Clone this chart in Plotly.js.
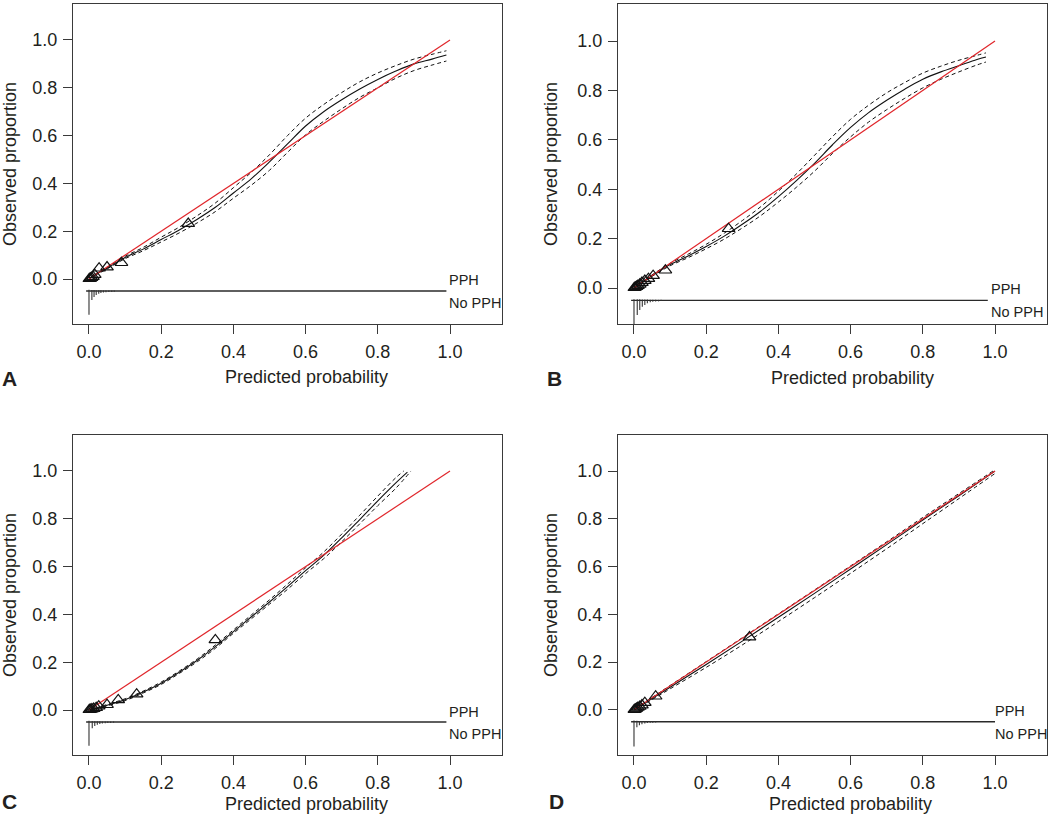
<!DOCTYPE html>
<html><head><meta charset="utf-8">
<script src="https://cdn.plot.ly/plotly-3.0.1.min.js"></script>
<style>html,body{margin:0;padding:0;background:#fff}#chart{width:1050px;height:815px}</style>
</head><body><div id="chart"></div>
<script>
// ---------- data ----------
const tickVals = [0, 0.2, 0.4, 0.6, 0.8, 1.0];
const tickText = ["0.0", "0.2", "0.4", "0.6", "0.8", "1.0"];
const diagX = [0, 1];
const diagY = [0, 1];
const rugBase = -0.05;

// Panel A
const A_x   = [0, 0.02, 0.05, 0.1, 0.15, 0.2, 0.25, 0.3, 0.35, 0.4, 0.45, 0.5, 0.55, 0.6, 0.65, 0.7, 0.75, 0.8, 0.85, 0.9, 0.95, 0.99];
const A_fit = [0, 0.02, 0.045, 0.09, 0.125, 0.165, 0.205, 0.25, 0.30, 0.36, 0.42, 0.49, 0.565, 0.64, 0.70, 0.75, 0.795, 0.835, 0.87, 0.90, 0.92, 0.937];
const A_up  = [0.002, 0.022, 0.048, 0.095, 0.132, 0.175, 0.217, 0.265, 0.318, 0.382, 0.447, 0.52, 0.60, 0.673, 0.73, 0.78, 0.825, 0.862, 0.893, 0.92, 0.94, 0.955];
const A_lo  = [0, 0.018, 0.042, 0.085, 0.118, 0.155, 0.193, 0.235, 0.282, 0.338, 0.393, 0.455, 0.53, 0.603, 0.66, 0.712, 0.76, 0.80, 0.84, 0.872, 0.895, 0.912];
const A_gx  = [0.001, 0.004, 0.007, 0.011, 0.016, 0.028, 0.05, 0.09, 0.275];
const A_gy  = [0.001, 0.003, 0.006, 0.01, 0.018, 0.045, 0.05, 0.068, 0.232];
const A_rx  = [0, 0.008, 0.014, 0.02, 0.027, 0.033, 0.04, 0.047, 0.055, 0.063, 0.07];
const A_no  = [0.10, 0.038, 0.025, 0.017, 0.012, 0.009, 0.007, 0.005, 0.004, 0.004, 0.003];
const A_yes = [0.005, 0.004, 0.004, 0.003, 0.003, 0.003, 0.002, 0.002, 0.002, 0.002, 0.002];
const A_rug = [-0.008, 0.99];

// Panel B
const B_x   = [0, 0.02, 0.05, 0.1, 0.15, 0.2, 0.25, 0.3, 0.35, 0.4, 0.45, 0.5, 0.55, 0.6, 0.65, 0.7, 0.75, 0.8, 0.85, 0.9, 0.95, 0.975];
const B_fit = [0, 0.02, 0.05, 0.095, 0.13, 0.168, 0.21, 0.258, 0.31, 0.37, 0.435, 0.505, 0.58, 0.65, 0.71, 0.76, 0.805, 0.845, 0.875, 0.90, 0.925, 0.935];
const B_up  = [0.002, 0.022, 0.053, 0.10, 0.137, 0.177, 0.222, 0.273, 0.328, 0.392, 0.462, 0.537, 0.613, 0.683, 0.74, 0.79, 0.832, 0.87, 0.898, 0.922, 0.942, 0.952];
const B_lo  = [0, 0.018, 0.047, 0.09, 0.123, 0.159, 0.198, 0.243, 0.292, 0.348, 0.408, 0.473, 0.545, 0.612, 0.672, 0.722, 0.768, 0.81, 0.845, 0.875, 0.903, 0.915];
const B_gx  = [0.001, 0.004, 0.007, 0.011, 0.016, 0.022, 0.03, 0.04, 0.053, 0.087, 0.262];
const B_gy  = [0.001, 0.003, 0.006, 0.01, 0.015, 0.022, 0.03, 0.038, 0.05, 0.072, 0.24];
const B_rx  = [0, 0.009, 0.016, 0.023, 0.03, 0.037, 0.045, 0.052, 0.06, 0.068, 0.075];
const B_no  = [0.10, 0.059, 0.039, 0.026, 0.019, 0.012, 0.008, 0.006, 0.005, 0.004, 0.003];
const B_yes = [0.005, 0.004, 0.004, 0.003, 0.003, 0.003, 0.002, 0.002, 0.002, 0.002, 0.002];
const B_rug = [-0.008, 0.98];

// Panel C
const C_x   = [0, 0.02, 0.05, 0.1, 0.15, 0.2, 0.25, 0.3, 0.35, 0.4, 0.45, 0.5, 0.55, 0.6, 0.65, 0.7, 0.75, 0.8, 0.85, 0.882];
const C_fit = [0, 0.007, 0.02, 0.043, 0.075, 0.112, 0.158, 0.208, 0.265, 0.328, 0.39, 0.452, 0.516, 0.583, 0.647, 0.72, 0.797, 0.875, 0.95, 0.995];
const C_upX = [0, 0.02, 0.05, 0.1, 0.15, 0.2, 0.25, 0.3, 0.35, 0.4, 0.45, 0.5, 0.55, 0.6, 0.65, 0.7, 0.75, 0.8, 0.85, 0.872];
const C_up  = [0.002, 0.009, 0.023, 0.047, 0.079, 0.117, 0.163, 0.214, 0.272, 0.335, 0.398, 0.461, 0.527, 0.595, 0.661, 0.736, 0.815, 0.895, 0.972, 1.0];
const C_loX = [0, 0.02, 0.05, 0.1, 0.15, 0.2, 0.25, 0.3, 0.35, 0.4, 0.45, 0.5, 0.55, 0.6, 0.65, 0.7, 0.75, 0.8, 0.85, 0.892];
const C_lo  = [0, 0.005, 0.017, 0.039, 0.071, 0.107, 0.153, 0.202, 0.258, 0.321, 0.382, 0.443, 0.505, 0.571, 0.633, 0.704, 0.779, 0.855, 0.928, 1.0];
const C_gx  = [0.001, 0.004, 0.008, 0.013, 0.02, 0.027, 0.05, 0.081, 0.132, 0.35];
const C_gy  = [0.001, 0.002, 0.004, 0.006, 0.01, 0.016, 0.022, 0.042, 0.066, 0.293];
const C_rx  = [0, 0.009, 0.016, 0.023, 0.03, 0.037, 0.045, 0.052, 0.06, 0.068];
const C_no  = [0.10, 0.026, 0.017, 0.012, 0.009, 0.007, 0.005, 0.004, 0.004, 0.003];
const C_yes = [0.005, 0.004, 0.003, 0.003, 0.003, 0.002, 0.002, 0.002, 0.002, 0.002];
const C_rug = [-0.008, 0.99];

// Panel D
const D_x   = [0, 0.05, 0.1, 0.2, 0.3, 0.4, 0.5, 0.6, 0.7, 0.8, 0.9, 1.0];
const D_fit = [0, 0.047, 0.095, 0.19, 0.288, 0.388, 0.488, 0.59, 0.692, 0.795, 0.897, 1.0];
const D_up  = [0.002, 0.052, 0.102, 0.202, 0.302, 0.402, 0.502, 0.603, 0.704, 0.806, 0.906, 1.006];
const D_lo  = [0, 0.043, 0.088, 0.178, 0.272, 0.37, 0.47, 0.572, 0.675, 0.78, 0.885, 0.99];
const D_gx  = [0.001, 0.004, 0.007, 0.011, 0.016, 0.022, 0.03, 0.06, 0.32];
const D_gy  = [0.001, 0.003, 0.006, 0.01, 0.014, 0.02, 0.03, 0.057, 0.305];
const D_rx  = [0, 0.008, 0.015, 0.022, 0.03, 0.037, 0.045, 0.052, 0.06];
const D_no  = [0.103, 0.023, 0.014, 0.01, 0.007, 0.005, 0.004, 0.004, 0.003];
const D_yes = [0.005, 0.004, 0.003, 0.003, 0.003, 0.002, 0.002, 0.002, 0.002];
const D_rug = [-0.008, 1.0];

// ---------- build ----------
const F = "Liberation Sans, Arial, Helvetica, sans-serif";
const TXT = "#231f20";
const AX = "#3a3a3a";

const panels = [
  {L:"A", xa:"x",  ya:"y",  x:A_x, fit:A_fit, upX:A_x, up:A_up, loX:A_x, lo:A_lo, gx:A_gx, gy:A_gy, rx:A_rx, no:A_no, yes:A_yes, rug:A_rug},
  {L:"B", xa:"x2", ya:"y2", x:B_x, fit:B_fit, upX:B_x, up:B_up, loX:B_x, lo:B_lo, gx:B_gx, gy:B_gy, rx:B_rx, no:B_no, yes:B_yes, rug:B_rug},
  {L:"C", xa:"x3", ya:"y3", x:C_x, fit:C_fit, upX:C_upX, up:C_up, loX:C_loX, lo:C_lo, gx:C_gx, gy:C_gy, rx:C_rx, no:C_no, yes:C_yes, rug:C_rug},
  {L:"D", xa:"x4", ya:"y4", x:D_x, fit:D_fit, upX:D_x, up:D_up, loX:D_x, lo:D_lo, gx:D_gx, gy:D_gy, rx:D_rx, no:D_no, yes:D_yes, rug:D_rug}
];

const traces = [];
panels.forEach(p => {
  const common = {xaxis:p.xa, yaxis:p.ya, showlegend:false, hoverinfo:"skip"};
  // rug baseline
  traces.push(Object.assign({type:"scatter", mode:"lines", x:p.rug, y:[rugBase, rugBase],
    line:{color:"#2a2a2a", width:1.4}}, common));
  // spikes
  const sx = [], sy = [];
  p.rx.forEach((v, i) => {
    sx.push(v, v, null); sy.push(rugBase, rugBase - p.no[i], null);
    sx.push(v, v, null); sy.push(rugBase, rugBase + p.yes[i], null);
  });
  traces.push(Object.assign({type:"scatter", mode:"lines", x:sx, y:sy,
    line:{color:"#333", width:1.1}}, common));
  // CI dashed
  traces.push(Object.assign({type:"scatter", mode:"lines", x:p.upX, y:p.up, line:{color:"#111", width:1, dash:"4px,3px", shape:"spline"}}, common));
  traces.push(Object.assign({type:"scatter", mode:"lines", x:p.loX, y:p.lo, line:{color:"#111", width:1, dash:"4px,3px", shape:"spline"}}, common));
  // fitted
  traces.push(Object.assign({type:"scatter", mode:"lines", x:p.x, y:p.fit, line:{color:"#111", width:1.1, shape:"spline"}}, common));
  // ideal
  traces.push(Object.assign({type:"scatter", mode:"lines", x:diagX, y:diagY, line:{color:"#e0262b", width:1.2}}, common));
  // grouped observations
  traces.push(Object.assign({type:"scatter", mode:"markers", x:p.gx, y:p.gy,
    marker:{symbol:"triangle-up-open", size:11, color:"#111", line:{width:1.2, color:"#111"}}}, common));
});

function xAxis(dom, anchor){
  return {domain:dom, anchor:anchor, range:[-0.0443, 1.144], showline:true, mirror:true, linecolor:AX, linewidth:1,
    ticks:"outside", ticklen:9, tickwidth:1, tickcolor:AX, tickvals:tickVals, ticktext:tickText,
    showgrid:false, zeroline:false, tickfont:{family:F, size:18, color:TXT}, ticklabelstandoff:2, fixedrange:true};
}
function yAxis(dom, anchor, range){
  return {domain:dom, anchor:anchor, range:range, showline:true, mirror:true, linecolor:AX, linewidth:1,
    ticks:"outside", ticklen:9, tickwidth:1, tickcolor:AX, tickvals:tickVals, ticktext:tickText,
    showgrid:false, zeroline:false, tickfont:{family:F, size:18, color:TXT}, ticklabelstandoff:2,
    title:{text:"Observed proportion", font:{family:F, size:18, color:TXT}, standoff:15}, fixedrange:true};
}

const W = 1050, H = 815;
const xdL = [73/W, 502/W], xdR = [618/W, 1047/W];
const ydT = [1 - 324/H, 1 - 4/H], ydB = [1 - 755/H, 1 - 435/H];

const annotations = [];
function ann(o){ annotations.push(Object.assign({showarrow:false, font:{family:F, size:14.5, color:TXT}}, o)); }
// PPH / No PPH labels (data coords)
const lab = [
  {xa:"x",  ya:"y",  x:0.992, y1:-0.004, y2:-0.100},
  {xa:"x2", ya:"y2", x:0.983, y1:-0.004, y2:-0.097},
  {xa:"x3", ya:"y3", x:0.992, y1:-0.008, y2:-0.100},
  {xa:"x4", ya:"y4", x:0.994, y1:-0.004, y2:-0.100}
];
lab.forEach(l => {
  ann({xref:l.xa, yref:l.ya, x:l.x, y:l.y1, text:"PPH", xanchor:"left", yanchor:"middle"});
  ann({xref:l.xa, yref:l.ya, x:l.x, y:l.y2, text:"No PPH", xanchor:"left", yanchor:"middle"});
});
// x-axis titles
[[306, 377], [852, 378], [306, 804], [850, 804]].forEach(c => {
  ann({xref:"paper", yref:"paper", x:c[0]/W, y:1 - c[1]/H, text:"Predicted probability", xanchor:"center", yanchor:"middle",
       font:{family:F, size:18, color:TXT}});
});
// panel letters
[["A", 0, 378], ["B", 545, 378], ["C", 0, 801], ["D", 547, 801]].forEach(c => {
  ann({xref:"paper", yref:"paper", x:c[1]/W, y:1 - c[2]/H, text:"<b>" + c[0] + "</b>", xanchor:"left", yanchor:"middle",
       font:{family:F, size:21, color:TXT}});
});

const layout = {
  width:W, height:H, margin:{l:0, r:0, t:0, b:0}, paper_bgcolor:"#fff", plot_bgcolor:"#fff",
  showlegend:false, font:{family:F, color:TXT},
  xaxis: xAxis(xdL, "y"),  yaxis: yAxis(ydT, "x",  [-0.1883, 1.1506]),
  xaxis2:xAxis(xdR, "y2"), yaxis2:yAxis(ydT, "x2", [-0.1457, 1.1498]),
  xaxis3:xAxis(xdL, "y3"), yaxis3:yAxis(ydB, "x3", [-0.1883, 1.1506]),
  xaxis4:xAxis(xdR, "y4"), yaxis4:yAxis(ydB, "x4", [-0.1891, 1.1513]),
  annotations:annotations
};

Plotly.newPlot("chart", traces, layout, {displayModeBar:false, staticPlot:true});
</script></body></html>
